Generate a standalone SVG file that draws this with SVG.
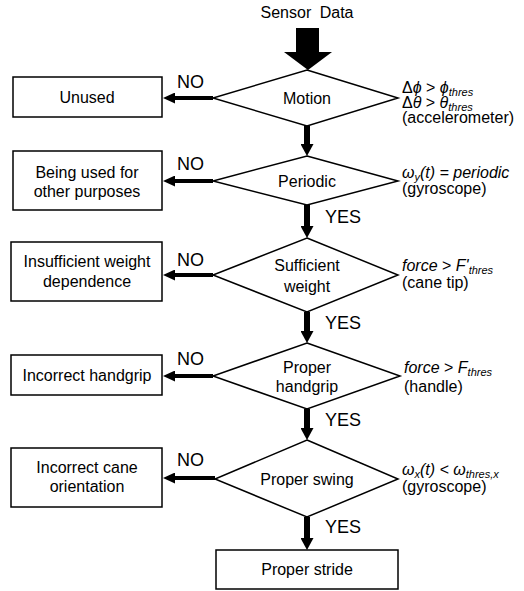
<svg xmlns="http://www.w3.org/2000/svg" width="524" height="591" viewBox="0 0 524 591">
<defs>
<style>
.bg{fill:#fff}
.box{fill:#fff;stroke:#000;stroke-width:1.5}
.dia{fill:#fff;stroke:#000;stroke-width:1.5}
.t{font-family:"Liberation Sans",Arial,sans-serif;font-size:16px;fill:#000;text-anchor:middle}
.lab{font-family:"Liberation Sans",Arial,sans-serif;font-size:18px;fill:#000}
.ann{font-family:"Liberation Sans",Arial,"DejaVu Sans",sans-serif;font-size:16px;fill:#000}
.it{font-style:italic}
.sub{font-size:11px;font-style:italic}
.v{stroke:#000;stroke-width:6;fill:none}
.h{stroke:#000;stroke-width:4;fill:none}
</style>
<marker id="hv" markerUnits="userSpaceOnUse" viewBox="0 0 12 13" markerWidth="12" markerHeight="13" refX="0" refY="6.5" orient="auto"><path d="M0,0 L12,6.5 L0,13 z" fill="#000"/></marker>
<marker id="hh" markerUnits="userSpaceOnUse" viewBox="0 0 12 11" markerWidth="12" markerHeight="11" refX="0" refY="5.5" orient="auto"><path d="M0,0 L12,5.5 L0,11 z" fill="#000"/></marker>
</defs>
<rect class="bg" x="0" y="0" width="524" height="591"/>

<g id="sensor-data">
<text class="t" x="307" y="18" word-spacing="4">Sensor Data</text>
</g>

<g id="connectors">
<polygon points="296,28 319,28 319,52 332,52 308,70 284,52 296,52" fill="#000"/>
<line class="v" x1="307" y1="126" x2="307" y2="144" marker-end="url(#hv)"/>
<line class="v" x1="307" y1="205" x2="307" y2="226" marker-end="url(#hv)"/>
<line class="v" x1="307" y1="312" x2="307" y2="331" marker-end="url(#hv)"/>
<line class="v" x1="307" y1="409" x2="307" y2="428" marker-end="url(#hv)"/>
<line class="v" x1="307" y1="517" x2="307" y2="538" marker-end="url(#hv)"/>
<line class="h" x1="213" y1="98" x2="175" y2="98" marker-end="url(#hh)"/>
<line class="h" x1="213" y1="181" x2="175" y2="181" marker-end="url(#hh)"/>
<line class="h" x1="213" y1="275" x2="175" y2="275" marker-end="url(#hh)"/>
<line class="h" x1="213" y1="376" x2="175" y2="376" marker-end="url(#hh)"/>
<line class="h" x1="215" y1="478" x2="175" y2="478" marker-end="url(#hh)"/>
<text class="lab" x="177" y="88">NO</text>
<text class="lab" x="177" y="170">NO</text>
<text class="lab" x="177" y="266">NO</text>
<text class="lab" x="177" y="365">NO</text>
<text class="lab" x="177" y="466">NO</text>
<text class="lab" x="325" y="223">YES</text>
<text class="lab" x="325" y="329">YES</text>
<text class="lab" x="325" y="426">YES</text>
<text class="lab" x="325" y="533">YES</text>
</g>

<g id="motion">
<polygon class="dia" points="307,70 398,98 307,126 213,98"/>
<text class="t" x="307" y="104">Motion</text>
<text class="ann" x="402" y="93">Δ<tspan class="it">ϕ</tspan> &gt; <tspan class="it">ϕ</tspan><tspan class="sub" dy="3">thres</tspan></text>
<text class="ann" x="402" y="108">Δ<tspan class="it">θ</tspan> &gt; <tspan class="it">θ</tspan><tspan class="sub" dy="3">thres</tspan></text>
<text class="ann" x="402" y="123">(accelerometer)</text>
</g>

<g id="unused">
<rect class="box" x="13" y="77" width="149" height="40"/>
<text class="t" x="87" y="103">Unused</text>
</g>

<g id="periodic">
<polygon class="dia" points="307,156 398,181 307,205 213,181"/>
<text class="t" x="307" y="187">Periodic</text>
<text class="ann it" x="402" y="178">ω<tspan class="sub" dy="3">y</tspan><tspan dy="-3">(t) = periodic</tspan></text>
<text class="ann" x="402" y="194">(gyroscope)</text>
</g>

<g id="other-purposes">
<rect class="box" x="13" y="151" width="149" height="59"/>
<text class="t" x="87" y="178">Being used for</text>
<text class="t" x="87" y="197">other purposes</text>
</g>

<g id="sufficient-weight">
<polygon class="dia" points="307,238 398,275 307,312 213,275"/>
<text class="t" x="307" y="271">Sufficient</text>
<text class="t" x="307" y="292">weight</text>
<text class="ann" x="402" y="271"><tspan class="it">force</tspan> &gt; <tspan class="it">F'</tspan><tspan class="sub" dy="3">thres</tspan></text>
<text class="ann" x="402" y="288">(cane tip)</text>
</g>

<g id="insufficient-weight">
<rect class="box" x="11" y="242" width="151" height="59"/>
<text class="t" x="87" y="267">Insufficient weight</text>
<text class="t" x="87" y="287">dependence</text>
</g>

<g id="proper-handgrip">
<polygon class="dia" points="307,343 400,376 307,409 213,376"/>
<text class="t" x="307" y="373">Proper</text>
<text class="t" x="307" y="392">handgrip</text>
<text class="ann" x="404" y="373"><tspan class="it">force</tspan> &gt; <tspan class="it">F</tspan><tspan class="sub" dy="3">thres</tspan></text>
<text class="ann" x="404" y="392">(handle)</text>
</g>

<g id="incorrect-handgrip">
<rect class="box" x="11" y="355" width="151" height="40"/>
<text class="t" x="87" y="381">Incorrect handgrip</text>
</g>

<g id="proper-swing">
<polygon class="dia" points="307,440 398,479 307,517 215,479"/>
<text class="t" x="307" y="485">Proper swing</text>
<text class="ann it" x="402" y="475">ω<tspan class="sub" dy="3">x</tspan><tspan dy="-3">(t) &lt; ω</tspan><tspan class="sub" dy="3">thres,x</tspan></text>
<text class="ann" x="402" y="492">(gyroscope)</text>
</g>

<g id="incorrect-orientation">
<rect class="box" x="11" y="448" width="151" height="59"/>
<text class="t" x="87" y="473">Incorrect cane</text>
<text class="t" x="87" y="492">orientation</text>
</g>

<g id="proper-stride">
<rect class="box" x="216" y="550" width="182" height="39"/>
<text class="t" x="307" y="575">Proper stride</text>
</g>
</svg>
